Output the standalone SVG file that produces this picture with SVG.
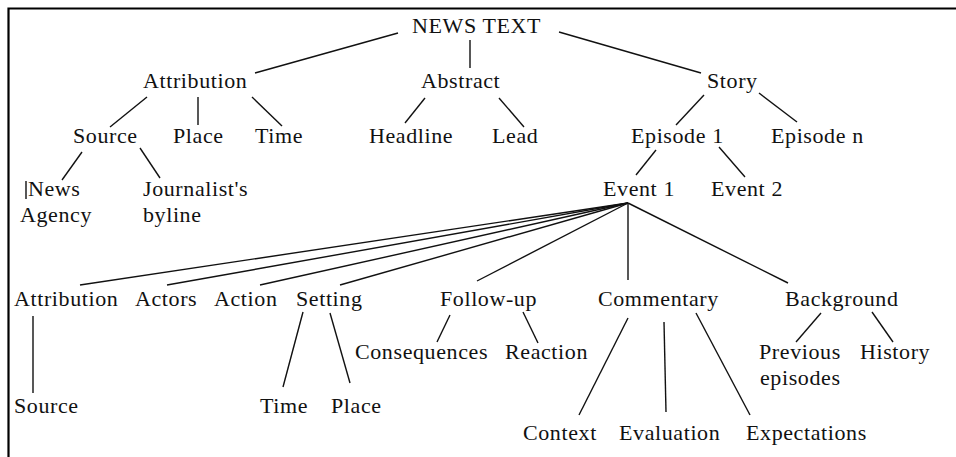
<svg xmlns="http://www.w3.org/2000/svg" width="956" height="457" viewBox="0 0 956 457">
<style>
text{font-family:"Liberation Serif","Times New Roman",serif;font-size:22px;letter-spacing:0.6px;fill:#111}
.c line{stroke:#111;stroke-width:1.4}
</style>
<rect width="956" height="457" fill="#fff"/>
<path d="M8.5,457 V8.5 H956" fill="none" stroke="#000" stroke-width="2.2"/>
<g class="c" id="connectors">
<line x1="398" y1="33" x2="255" y2="73"/>
<line x1="470" y1="40" x2="470" y2="68"/>
<line x1="559" y1="32" x2="701" y2="73"/>
<line x1="147" y1="97" x2="110" y2="127"/>
<line x1="198" y1="97" x2="198" y2="125"/>
<line x1="252" y1="97" x2="282" y2="126"/>
<line x1="425" y1="98" x2="405" y2="123"/>
<line x1="499" y1="98" x2="524" y2="127"/>
<line x1="704" y1="95" x2="676" y2="125"/>
<line x1="759" y1="93" x2="797" y2="122"/>
<line x1="82" y1="152" x2="62" y2="180"/>
<line x1="140" y1="148" x2="160" y2="178"/>
<line x1="656" y1="150" x2="636" y2="175"/>
<line x1="719" y1="147" x2="745" y2="177"/>
<line x1="628" y1="203" x2="80" y2="285"/>
<line x1="628" y1="203" x2="167" y2="285"/>
<line x1="628" y1="203" x2="260" y2="285"/>
<line x1="628" y1="203" x2="340" y2="285"/>
<line x1="628" y1="203" x2="477" y2="281"/>
<line x1="628" y1="203" x2="628" y2="280"/>
<line x1="628" y1="203" x2="788" y2="283"/>
<line x1="33" y1="316" x2="33" y2="393"/>
<line x1="303" y1="312" x2="283" y2="387"/>
<line x1="330" y1="313" x2="350" y2="383"/>
<line x1="450" y1="315" x2="437" y2="342"/>
<line x1="523" y1="312" x2="538" y2="343"/>
<line x1="628" y1="318" x2="579" y2="415"/>
<line x1="664" y1="322" x2="666" y2="412"/>
<line x1="696" y1="313" x2="750" y2="415"/>
<line x1="821" y1="313" x2="796" y2="342"/>
<line x1="872" y1="312" x2="893" y2="342"/>
<line x1="26" y1="181" x2="26" y2="199"/>
</g>
<g id="news-text"><text x="412" y="33">NEWS TEXT</text></g>
<g id="attribution"><text x="143" y="88">Attribution</text></g>
<g id="abstract"><text x="421" y="88">Abstract</text></g>
<g id="story"><text x="707" y="88">Story</text></g>
<g id="source"><text x="73" y="143">Source</text></g>
<g id="place"><text x="173" y="143">Place</text></g>
<g id="time"><text x="255" y="143">Time</text></g>
<g id="headline"><text x="369" y="143">Headline</text></g>
<g id="lead"><text x="492" y="143">Lead</text></g>
<g id="episode-1"><text x="631" y="143">Episode 1</text></g>
<g id="episode-n"><text x="771" y="143">Episode n</text></g>
<g id="news-agency"><text x="28" y="196">News</text><text x="20" y="222">Agency</text></g>
<g id="journalists-byline"><text x="143" y="196">Journalist's</text><text x="143" y="222">byline</text></g>
<g id="event-1"><text x="603" y="196">Event 1</text></g>
<g id="event-2"><text x="711" y="196">Event 2</text></g>
<g id="attribution-2"><text x="14" y="306">Attribution</text></g>
<g id="actors"><text x="135" y="306">Actors</text></g>
<g id="action"><text x="214" y="306">Action</text></g>
<g id="setting"><text x="296" y="306">Setting</text></g>
<g id="follow-up"><text x="440" y="306">Follow-up</text></g>
<g id="commentary"><text x="598" y="306">Commentary</text></g>
<g id="background"><text x="785" y="306">Background</text></g>
<g id="consequences"><text x="355" y="359">Consequences</text></g>
<g id="reaction"><text x="505" y="359">Reaction</text></g>
<g id="previous-episodes"><text x="759" y="359">Previous</text><text x="760" y="385">episodes</text></g>
<g id="history"><text x="860" y="359">History</text></g>
<g id="source-2"><text x="14" y="413">Source</text></g>
<g id="time-2"><text x="260" y="413">Time</text></g>
<g id="place-2"><text x="331" y="413">Place</text></g>
<g id="context"><text x="523" y="440">Context</text></g>
<g id="evaluation"><text x="619" y="440">Evaluation</text></g>
<g id="expectations"><text x="746" y="440">Expectations</text></g>
</svg>
